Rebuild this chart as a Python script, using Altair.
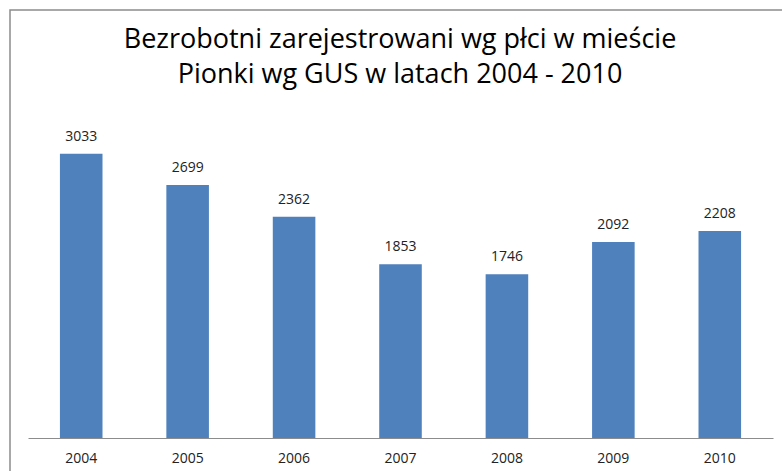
import altair as alt
import pandas as pd

years = ["2004", "2005", "2006", "2007", "2008", "2009", "2010"]
values = [3033, 2699, 2362, 1853, 1746, 2092, 2208]
title_lines = ["Bezrobotni zarejestrowani wg płci w mieście", "Pionki wg GUS w latach 2004 - 2010"]

df = pd.DataFrame({"rok": years, "liczba": values})

FONT = "Open Sans"

x = alt.X("rok:N", sort=years, title=None,
          scale=alt.Scale(paddingInner=0.6, paddingOuter=0.3),
          axis=alt.Axis(labelAngle=0, labelFontSize=14, labelColor="#222222",
                        labelFont=FONT, labelPadding=13, ticks=False,
                        domainColor="#8c8c8c", domainWidth=1, grid=False))
y = alt.Y("liczba:Q", title=None, scale=alt.Scale(domain=[0, 3500], nice=False),
          axis=None)

bars = alt.Chart(df).mark_bar(color="#4F81BD").encode(x=x, y=y)
labels = alt.Chart(df).mark_text(dy=-10, fontSize=14, font=FONT, color="#222222",
                                 baseline="bottom").encode(
    x=alt.X("rok:N", sort=years), y="liczba:Q", text="liczba:Q")

border = alt.Chart(pd.DataFrame({"a": [0]})).mark_rect(
    fill="transparent", stroke="#8c8c8c", strokeWidth=1.5).encode(
    x=alt.value(-18), x2=alt.value(800), y=alt.value(-100), y2=alt.value(500))

title = alt.Chart(pd.DataFrame({"a": [0]})).mark_text(
    text=title_lines, font=FONT, fontSize=27, color="#000000", align="center",
    baseline="alphabetic", lineHeight=35).encode(
    x=alt.value(372), y=alt.value(-62))

chart = alt.layer(border, title, bars, labels).properties(
    width=745, height=328,
    background="white",
    padding={"left": 28, "top": 110, "right": 9, "bottom": 33},
    autosize=alt.AutoSizeParams(type="none"),
).configure_view(stroke="transparent", strokeWidth=0)

chart.save("out.html", embed_options={"renderer": "svg", "actions": False})
